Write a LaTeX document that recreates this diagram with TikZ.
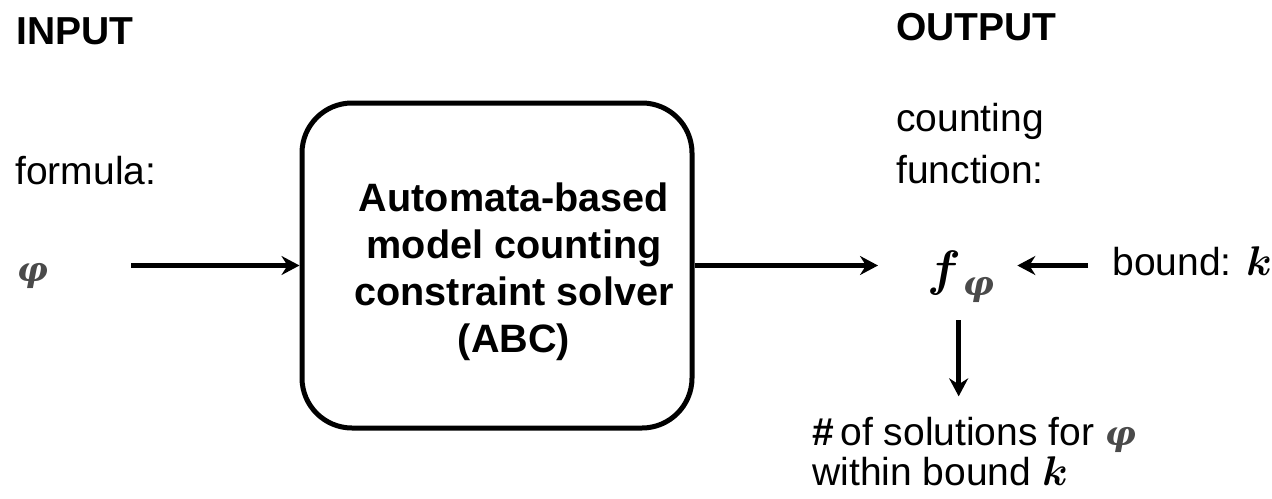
\documentclass[tikz,border=0pt]{standalone}
\usepackage{amsmath,bm}
\usepackage{fontspec}
\setmainfont{Liberation Sans}
\newfontfamily\phifont{DejaVu Serif}
\usetikzlibrary{arrows.meta,calc}
\definecolor{phigray}{HTML}{4A4A4A}
% bold italic phi, set in grey
\newcommand{\phisym}[1][17]{{\fontsize{#1}{#1}\phifont\bfseries\itshape\color{phigray}φ}}
\begin{document}
\begin{tikzpicture}[x=0.5pt,y=-0.5pt,
  txt/.style={font=\fontsize{19.5}{23.5}\selectfont, inner sep=0pt, anchor=base west},
  head/.style={txt, font=\fontsize{19.5}{23.5}\selectfont\bfseries},
  arr/.style={line width=2.5pt, -{Stealth[length=9pt,width=9.5pt,inset=3pt]}},
  solver/.style={draw, line width=2.5pt, rounded corners=25pt,
    minimum width=195pt, minimum height=162.5pt, inner sep=0pt}]
\useasboundingbox (0,0) rectangle (1272,498);

% headings
\node[head] (input)  at (16,44)  {INPUT};
\node[head] (output) at (896,40) {OUTPUT};

% input side
\node[txt] (formula) at (15,184) {formula:};
\node[txt] (phi) at (17,281) {\phisym};
\coordinate (inTail) at (131,265.5);

% the solver
\node[solver] (box) at (497,265.5) {};
\node[font=\fontsize{19.8}{23.5}\selectfont\bfseries, align=center, inner sep=0pt]
  (boxtext) at (514,272) {Automata-based\\model counting\\constraint solver\\(ABC)};

% output side (multi-line nodes are placed by their last baseline)
\node[txt, align=left, font=\fontsize{19.5}{26}\selectfont] (cf) at (896,183)
  {counting\\function:};
\node[txt, font=\fontsize{23}{26}\selectfont] (fphi) at (927,285)
  {$\boldsymbol{f}$\hspace{1pt}\raisebox{-5pt}{\phisym}};
\node[txt] (bound) at (1112,275) {bound: $\boldsymbol{k}$};
\node[txt, align=left, font=\fontsize{19.5}{20}\selectfont] (count) at (812,485)
  {\textbf{\#}\,of solutions for \phisym\\within bound $\boldsymbol{k}$};

% connectors
\draw[arr] (inTail) -- (box.west);
\draw[arr] (box.east) -- ($(box.east -| fphi.west)+(-49,0)$);
\draw[arr] ($(bound.west |- box.east)+(-24,0)$) -- ($(box.east -| fphi.east)+(23,0)$);
\draw[arr] ($(fphi.south)+(-2,18)$) -- ($(fphi.south |- count.north)+(-2,-20)$);
\end{tikzpicture}
\end{document}
